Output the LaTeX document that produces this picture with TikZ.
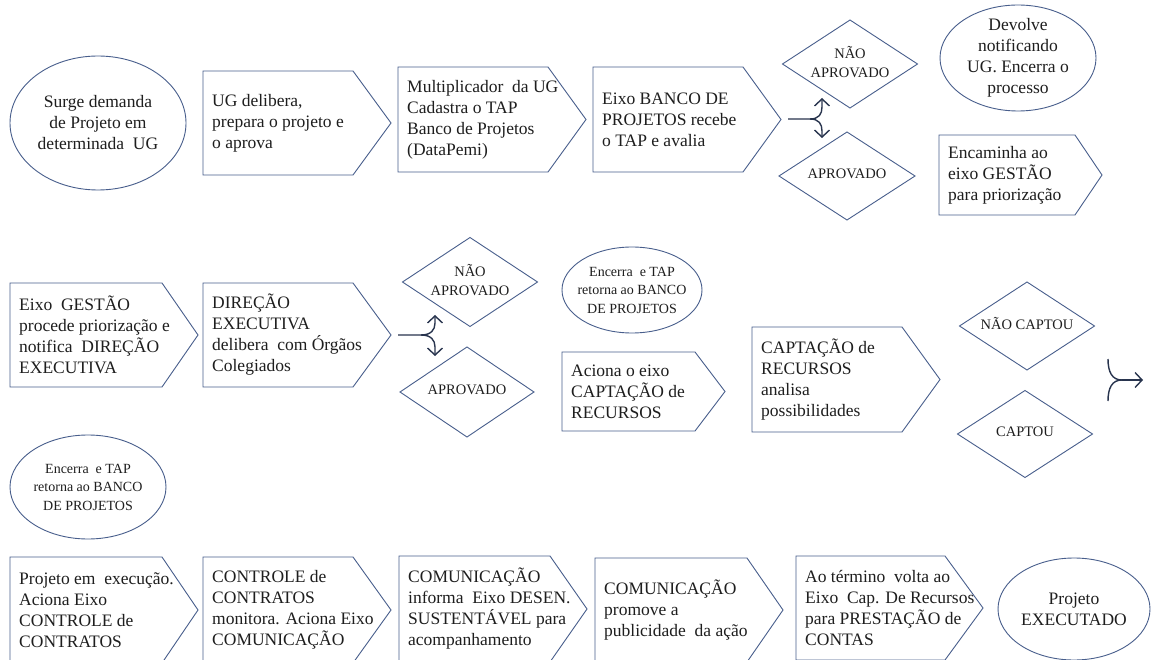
\documentclass[tikz,border=0pt]{standalone}
\usepackage{fontspec}
\setmainfont{Liberation Serif}
\usetikzlibrary{arrows.meta}
\definecolor{shapeline}{RGB}{72,94,140}
\definecolor{forkline}{RGB}{40,52,78}
\definecolor{txt}{RGB}{30,30,30}
\tikzset{
  shapeln/.style={draw=shapeline, line width=0.9pt, line join=miter},
  pentext/.style={anchor=west, align=left, inner sep=0pt, text=txt, font=\fontsize{17.5}{21}\selectfont},
  elltext/.style={align=center, inner sep=0pt, text=txt, font=\fontsize{17.5}{21}\selectfont},
  smallell/.style={align=center, inner sep=0pt, text=txt, font=\fontsize{14}{18.5}\selectfont},
  diatext/.style={align=center, inner sep=0pt, text=txt, font=\fontsize{14.5}{19}\selectfont},
  forkln/.style={draw=forkline, line width=1.4pt, -{Straight Barb[length=7pt,width=15pt,line width=1.4pt]}},
}
% name, left, top, shoulder, tip, bottom, text
\newcommand\pentbox[7]{%
  \draw[shapeln] (#2,#3) -- (#4,#3) -- (#5,{(#3+#6)/2}) -- (#4,#6) -- (#2,#6) -- cycle;
  \node[pentext] (#1) at ({#2+9},{(#3+#6)/2}) {#7};
}
% name, cx, cy, half width, half height, text
\newcommand\diabox[6]{%
  \draw[shapeln] ({#2-#4},#3) -- (#2,{#3-#5}) -- ({#2+#4},#3) -- (#2,{#3+#5}) -- cycle;
  \node[diatext] (#1) at (#2,{#3-2}) {#6};
}
% name, cx, cy, rx, ry, style, text
\newcommand\ellbox[7]{%
  \draw[shapeln] (#2,#3) ellipse [x radius=#4pt, y radius=#5pt];
  \node[#6] (#1) at (#2,#3) {#7};
}
\begin{document}
\begin{tikzpicture}[x=1pt,y=-1pt]
\useasboundingbox (0,0) rectangle (1151,660);
\clip (0,0) rectangle (1151,660);
\fill[white] (0,0) rectangle (1151,660);

% ---------- row 1 ----------
\ellbox{e1}{98}{123}{88}{67}{elltext}{Surge demanda\\de Projeto em\\determinada\ \ UG}
\pentbox{p1}{203}{71}{353}{391}{175}{UG delibera,\\prepara o projeto e\\o aprova}
\pentbox{p2}{398}{67}{548}{586}{172}{Multiplicador\ \ da UG\\Cadastra o TAP\\Banco de Projetos\\(DataPemi)}
\pentbox{p3}{593}{67}{743}{781}{172}{Eixo BANCO DE\\PROJETOS recebe\\o TAP e avalia}
\diabox{d1}{850}{64}{67.5}{44}{NÃO\\APROVADO}
\diabox{d2}{847}{176}{68}{44}{APROVADO}
\ellbox{e2}{1018}{58}{78}{53}{elltext}{Devolve\\notificando\\UG. Encerra o\\processo}
\pentbox{p4}{939}{135}{1075}{1102}{215}{Encaminha ao\\eixo GESTÃO\\para priorização}

\coordinate (f1a) at (788,119);
\coordinate (f1b) at (810,119);
\coordinate (f1u) at (822,98);
\coordinate (f1d) at (822,138);
\draw[forkln] (f1a) -- (f1b) .. controls (819,119) and (822,114) .. (822,107) -- (f1u);
\draw[forkln] (f1b) .. controls (819,119) and (822,124) .. (822,131) -- (f1d);

% ---------- row 2 ----------
\pentbox{p5}{10}{283}{162}{198}{387}{Eixo\ \ GESTÃO\\procede priorização e\\notifica\ \ DIREÇÃO\\EXECUTIVA}
\pentbox{p6}{203}{283}{353}{391}{387}{DIREÇÃO\\EXECUTIVA\\delibera\ \ com Órgãos\\Colegiados}
\diabox{d3}{470}{282}{67.5}{44.5}{NÃO\\APROVADO}
\diabox{d4}{467}{392}{67}{45}{APROVADO}
\ellbox{e3}{632}{290}{70}{43}{smallell}{Encerra\ \ e TAP\\retorna ao BANCO\\DE PROJETOS}
\pentbox{p7}{562}{352}{695}{725}{431}{Aciona o eixo\\CAPTAÇÃO de\\RECURSOS}
\pentbox{p8}{752}{327}{902}{940}{432}{CAPTAÇÃO de\\RECURSOS\\analisa\\possibilidades}
\diabox{d5}{1027}{326}{67.5}{44}{NÃO CAPTOU}
\diabox{d6}{1025}{434}{67.5}{43.5}{CAPTOU}

\coordinate (f2a) at (398,335);
\coordinate (f2b) at (421,335);
\coordinate (f2u) at (435,315);
\coordinate (f2d) at (435,356);
\draw[forkln] (f2a) -- (f2b) .. controls (431,335) and (435,330) .. (435,323) -- (f2u);
\draw[forkln] (f2b) .. controls (431,335) and (435,340) .. (435,347) -- (f2d);

\coordinate (f3u) at (1108,359);
\coordinate (f3d) at (1108,401);
\coordinate (f3m) at (1122,380);
\coordinate (f3e) at (1143,380);
\draw[draw=forkline, line width=1.4pt] (f3u) .. controls (1108,372) and (1112,380) .. (f3m);
\draw[draw=forkline, line width=1.4pt] (f3d) .. controls (1108,388) and (1112,380) .. (f3m);
\draw[forkln] (f3m) -- (f3e);

% ---------- row 3 ----------
\ellbox{e4}{88}{487}{78}{52}{smallell}{Encerra\ \ e TAP\\retorna ao BANCO\\DE PROJETOS}
\pentbox{p9}{10}{557}{162}{198}{663}{Projeto em\ \ execução.\\Aciona Eixo\\CONTROLE de\\CONTRATOS}
\pentbox{p10}{203}{557}{353}{391}{663}{CONTROLE de\\CONTRATOS\\monitora. Aciona Eixo\\COMUNICAÇÃO}
\pentbox{p11}{399}{556}{550}{587}{662}{COMUNICAÇÃO\\informa\ \ Eixo DESEN.\\SUSTENTÁVEL para\\acompanhamento}
\pentbox{p12}{595}{558}{747}{783}{662}{COMUNICAÇÃO\\promove a\\publicidade\ \ da ação}
\pentbox{p13}{796}{556}{945}{983}{660}{Ao término\ \ volta ao\\Eixo\ \ Cap. De Recursos\\para PRESTAÇÃO de\\CONTAS}
\ellbox{e5}{1074}{609}{76}{51}{elltext}{Projeto\\EXECUTADO}
\end{tikzpicture}
\end{document}
